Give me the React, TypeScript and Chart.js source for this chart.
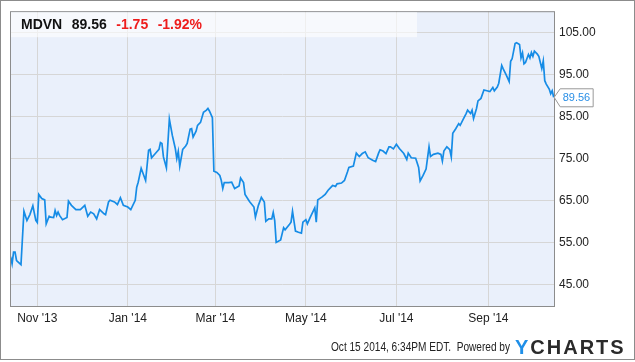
import React, { useEffect, useRef } from "react";
import { Chart, registerables } from "chart.js";

Chart.register(...registerables);

// ---- Header / footer text ----
const ticker = "MDVN";
const lastPrice = 89.56;
const priceChange = -1.75;
const pctChange = -1.92;
const timestampText = "Oct 15 2014, 6:34PM EDT.";
const poweredText = "Powered by";
const brandFirst = "Y";
const brandRest = "CHARTS";

// ---- Series: day offset from 2013-11-01, closing price ----
const days = [
  -18, -17, -16, -15, -14, -11, -9, -7, -5, -3, -1, 0, 1, 3, 5, 6, 8, 9, 11, 12,
  13, 14, 15, 17, 20, 21, 23, 26, 29, 32, 34, 36, 38, 40, 42, 45, 46, 48, 49, 52,
  54, 56, 58, 61, 63, 66, 67, 68, 70, 73, 75, 76, 77, 80, 82, 83, 84, 85, 87, 89,
  91, 93, 94, 95, 96, 98, 100, 101, 103, 104, 105, 107, 108, 110, 112, 114, 115, 116, 118, 119,
  121, 123, 124, 125, 126, 129, 131, 133, 136, 137, 139, 140, 143, 146, 147, 149, 151, 153, 154, 156,
  158, 159, 160, 161, 164, 166, 167, 170, 171, 172, 174, 176, 178, 179, 181, 182, 184, 187, 188, 189,
  192, 194, 196, 199, 201, 202, 205, 207, 209, 210, 213, 215, 217, 219, 221, 223, 226, 228, 230, 231,
  233, 235, 237, 238, 240, 242, 244, 247, 249, 250, 252, 255, 257, 258, 260, 262, 264, 265, 267, 270,
  272, 273, 274, 276, 278, 279, 280, 282, 284, 285, 287, 289, 290, 292, 293, 294, 296, 297, 299, 301,
  303, 305, 307, 308, 310, 311, 313, 314, 316, 318, 319, 320, 322, 323, 325, 326, 327, 328, 329, 331,
  332, 333, 334, 335, 337, 338, 340, 341, 342, 343, 345, 346, 347, 348,
];
const prices = [
  51.7, 50.0, 52.8, 52.8, 50.8, 49.8, 62.5, 60.3, 61.7, 63.8, 60.3, 59.8, 66.5, 65.5, 65.2, 59.5, 61.3, 61.1, 61.0, 62.7,
  61.5, 62.3, 61.5, 60.5, 61.0, 64.9, 63.9, 62.9, 62.9, 63.9, 61.3, 62.3, 61.9, 60.7, 62.9, 61.9, 61.7, 64.7, 65.1, 64.7,
  64.1, 65.7, 63.9, 63.5, 62.9, 65.1, 68.2, 69.4, 72.7, 69.8, 77.0, 77.2, 75.2, 76.4, 77.2, 78.8, 78.6, 75.4, 72.8, 84.4,
  80.5, 77.4, 75.0, 76.7, 73.2, 77.2, 78.0, 78.6, 82.0, 82.1, 80.1, 81.5, 82.9, 83.6, 86.0, 86.5, 86.9, 86.3, 84.7, 72.0,
  71.7, 71.0, 69.8, 67.9, 69.3, 69.3, 69.4, 67.9, 68.5, 70.4, 69.3, 66.5, 64.8, 63.5, 61.1, 63.9, 65.8, 64.7, 60.1, 60.7,
  60.7, 62.2, 60.3, 55.1, 55.7, 58.6, 58.1, 59.4, 59.9, 62.5, 57.8, 57.5, 57.3, 59.9, 60.5, 59.5, 61.1, 63.3, 59.9, 65.2,
  65.9, 66.5, 67.5, 68.6, 68.4, 69.0, 69.2, 69.8, 71.8, 72.9, 73.2, 76.3, 75.5, 76.2, 76.6, 75.2, 74.6, 74.3, 76.3, 77.1,
  76.8, 76.2, 77.8, 77.8, 77.3, 78.4, 77.4, 76.2, 74.8, 76.3, 75.2, 75.1, 72.9, 69.7, 71.0, 72.5, 77.8, 75.5, 76.0, 76.3,
  76.0, 74.4, 76.8, 77.8, 77.1, 75.4, 81.0, 82.1, 83.3, 82.9, 84.3, 85.7, 86.5, 85.7, 86.5, 84.5, 86.9, 88.7, 89.3, 91.3,
  91.1, 90.9, 91.9, 91.1, 92.0, 92.9, 97.1, 96.3, 94.9, 93.3, 98.1, 98.7, 102.3, 102.5, 102.1, 98.9, 100.1, 97.5, 97.8, 99.7,
  98.9, 100.2, 99.3, 100.5, 99.8, 99.3, 96.4, 98.2, 93.5, 92.7, 91.5, 90.4, 91.1, 89.56,
];

// ---- Axis ticks ----
const xTickDays = [0, 61, 120, 181, 242, 304];
const xTickLabels = ["Nov '13", "Jan '14", "Mar '14", "May '14", "Jul '14", "Sep '14"];
const yTickValues = [45, 55, 65, 75, 85, 95, 105];
const xRange = [-18.4, 348.9];
const yRange = [40, 110];

const FONT = "'Liberation Sans', Arial, Helvetica, sans-serif";
const LINE_COLOR = "#168ce6";
const GRID_COLOR = "#d6d6d6";
const FRAME_COLOR = "#8c8c8c";

export default function App() {
  const canvasRef = useRef<HTMLCanvasElement | null>(null);

  useEffect(() => {
    document.body.style.margin = "0";
    const canvas = canvasRef.current;
    if (!canvas) return;

    const decorPlugin = {
      id: "decor",
      beforeDraw(chart: any) {
        const { ctx, chartArea } = chart;
        ctx.save();
        ctx.fillStyle = "#ffffff";
        ctx.fillRect(0, 0, chart.width, chart.height);
        ctx.fillStyle = "#eaf0fb";
        ctx.fillRect(chartArea.left, chartArea.top, chartArea.right - chartArea.left, chartArea.bottom - chartArea.top);
        ctx.restore();
      },
      afterDraw(chart: any) {
        const { ctx, chartArea } = chart;
        const xs = chart.scales.x;
        const ys = chart.scales.y;
        ctx.save();

        // plot border
        ctx.strokeStyle = FRAME_COLOR;
        ctx.lineWidth = 1;
        ctx.strokeRect(chartArea.left + 0.5, chartArea.top + 0.5, chartArea.right - chartArea.left - 1, chartArea.bottom - chartArea.top);

        // header box
        ctx.fillStyle = "rgba(255,255,255,0.6)";
        ctx.fillRect(chartArea.left + 1, chartArea.top + 1, 406, 25);
        ctx.textBaseline = "alphabetic";
        ctx.textAlign = "left";
        ctx.font = `bold 14px ${FONT}`;
        const parts = [
          { t: ticker, c: "#111111" },
          { t: lastPrice.toFixed(2), c: "#111111" },
          { t: priceChange.toFixed(2), c: "#ee1c1c" },
          { t: pctChange.toFixed(2) + "%", c: "#ee1c1c" },
        ];
        let hx = 21;
        for (const p of parts) {
          ctx.fillStyle = p.c;
          ctx.fillText(p.t, hx, 29);
          hx += ctx.measureText(p.t).width + 9.5;
        }

        // last price tag
        const li = prices.length - 1;
        const px = xs.getPixelForValue(days[li]);
        const py = ys.getPixelForValue(prices[li]);
        const bl = px + 6;
        const br = bl + 33;
        const bt = py - 9;
        const bb = py + 9;
        ctx.beginPath();
        ctx.moveTo(px + 0.5, py);
        ctx.lineTo(bl + 0.5, bt + 0.5);
        ctx.lineTo(br + 0.5, bt + 0.5);
        ctx.lineTo(br + 0.5, bb + 0.5);
        ctx.lineTo(bl + 0.5, bb + 0.5);
        ctx.closePath();
        ctx.fillStyle = "#ffffff";
        ctx.fill();
        ctx.strokeStyle = "#999999";
        ctx.stroke();
        ctx.fillStyle = "#2a8fe6";
        ctx.font = `11px ${FONT}`;
        ctx.textBaseline = "middle";
        ctx.fillText(lastPrice.toFixed(2), bl + 3, py + 1);

        // footer
        ctx.textBaseline = "alphabetic";
        ctx.fillStyle = "#222222";
        ctx.font = `12px ${FONT}`;
        ctx.fillText(`${timestampText}  ${poweredText}`, 331, 351, 179);
        ctx.font = `bold 20px ${FONT}`;
        ctx.fillStyle = "#1f8fe8";
        ctx.fillText(brandFirst, 515, 354);
        const yw = ctx.measureText(brandFirst).width;
        ctx.fillStyle = "#2a2a2a";
        (ctx as any).letterSpacing = "2px";
        ctx.fillText(brandRest, 515 + yw + 2, 354);
        (ctx as any).letterSpacing = "0px";

        // outer frame
        ctx.strokeStyle = FRAME_COLOR;
        ctx.strokeRect(0.5, 0.5, chart.width - 1, 359);
        ctx.restore();
      },
    };

    const chart = new Chart(canvas, {
      type: "line",
      data: {
        datasets: [
          {
            data: days.map((d, i) => ({ x: d, y: prices[i] })),
            borderColor: LINE_COLOR,
            borderWidth: 1.7,
            pointRadius: 0,
            tension: 0,
            fill: false,
          },
        ],
      },
      options: {
        animation: false,
        responsive: false,
        devicePixelRatio: 1,
        layout: { padding: { left: 10, top: 10, right: 0, bottom: 0 } },
        plugins: { legend: { display: false }, tooltip: { enabled: false } },
        scales: {
          x: {
            type: "linear",
            min: xRange[0],
            max: xRange[1],
            afterBuildTicks: (s: any) => {
              s.ticks = xTickDays.map((v) => ({ value: v }));
            },
            afterFit: (s: any) => {
              s.height = 56;
            },
            grid: { color: GRID_COLOR, lineWidth: 1, drawTicks: false },
            border: { display: false },
            ticks: {
              autoSkip: false,
              maxRotation: 0,
              padding: 5,
              color: "#222222",
              font: { family: FONT, size: 12 },
              callback: (v: any) => {
                const i = xTickDays.indexOf(Number(v));
                return i >= 0 ? xTickLabels[i] : "";
              },
            },
          },
          y: {
            position: "right",
            min: yRange[0],
            max: yRange[1],
            afterBuildTicks: (s: any) => {
              s.ticks = yTickValues.map((v) => ({ value: v }));
            },
            afterFit: (s: any) => {
              s.width = 80;
            },
            grid: { color: GRID_COLOR, lineWidth: 1, drawTicks: false },
            border: { display: false },
            ticks: {
              padding: 4,
              color: "#222222",
              font: { family: FONT, size: 12 },
              callback: (v: any) => Number(v).toFixed(2),
            },
          },
        },
      },
      plugins: [decorPlugin],
    });

    return () => {
      chart.destroy();
    };
  }, []);

  return (
    <div style={{ width: 635, height: 362 }}>
      <canvas ref={canvasRef} width={635} height={362} style={{ display: "block" }} />
    </div>
  );
}
